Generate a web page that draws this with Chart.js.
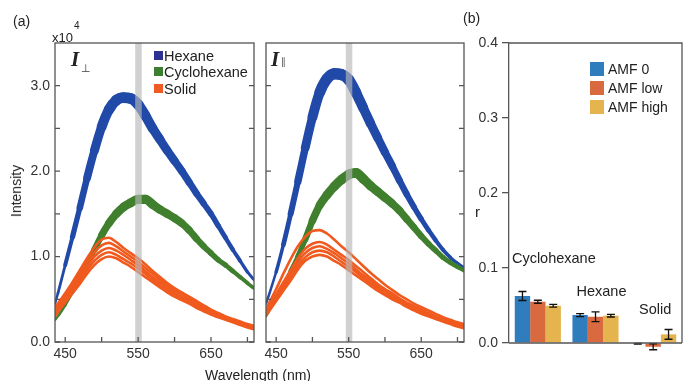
<!DOCTYPE html>
<html><head><meta charset="utf-8">
<script src="https://cdn.jsdelivr.net/npm/chart.js@4.4.0/dist/chart.umd.min.js"></script>
<style>
html,body{margin:0;padding:0;background:#fff;}
#wrap{position:relative;width:686px;height:381px;overflow:hidden;font-family:"Liberation Sans",Arial,sans-serif;color:#222;}
canvas{position:absolute;left:0;top:0;}
.t{position:absolute;white-space:nowrap;line-height:1;}
.box{position:absolute;}
</style></head><body>
<div id="wrap">
<canvas id="c1" width="686" height="381"></canvas>
<canvas id="c2" width="686" height="381"></canvas>
<canvas id="c3" width="686" height="381"></canvas>

<div class="t" style="left:13px;top:14px;font-size:14px;">(a)</div>
<div class="t" style="left:52px;top:31px;font-size:13px;">x10</div>
<div class="t" style="left:74px;top:21px;font-size:10px;">4</div>
<div class="t" style="left:463px;top:11px;font-size:14px;">(b)</div>
<div class="t" style="left:16px;top:191px;font-size:14px;transform:translate(-50%,-50%) rotate(-90deg);">Intensity</div>
<div class="t" style="left:258px;top:375px;font-size:14px;transform:translate(-50%,-50%);">Wavelength (nm)</div>
<div class="t" style="left:475px;top:204px;font-size:15px;">r</div>

<div class="t" style="left:71px;top:49px;font-size:21px;font-family:'Liberation Serif',serif;font-weight:bold;font-style:italic;">I</div>
<div class="t" style="left:81px;top:63px;font-size:11px;font-family:'DejaVu Sans',sans-serif;color:#444;">⊥</div>
<div class="t" style="left:271px;top:49px;font-size:21px;font-family:'Liberation Serif',serif;font-weight:bold;font-style:italic;">I</div>
<div class="t" style="left:281px;top:57px;font-size:10px;font-family:'DejaVu Sans',sans-serif;color:#555;">∥</div>

<div class="box" style="left:154px;top:51px;width:9px;height:9px;background:#2e3192;"></div>
<div class="t" style="left:164px;top:49px;font-size:14.5px;">Hexane</div>
<div class="box" style="left:154px;top:67px;width:9px;height:9px;background:#3c7f30;"></div>
<div class="t" style="left:164px;top:65px;font-size:14.5px;">Cyclohexane</div>
<div class="box" style="left:154px;top:84px;width:9px;height:9px;background:#f05a24;"></div>
<div class="t" style="left:164px;top:82px;font-size:14.5px;">Solid</div>

<div class="box" style="left:590px;top:62px;width:14px;height:14px;background:#2f7dbd;"></div>
<div class="t" style="left:608px;top:62px;font-size:14px;">AMF 0</div>
<div class="box" style="left:590px;top:81px;width:14px;height:14px;background:#d9693f;"></div>
<div class="t" style="left:608px;top:81px;font-size:14px;">AMF low</div>
<div class="box" style="left:590px;top:100px;width:14px;height:14px;background:#e6b44f;"></div>
<div class="t" style="left:608px;top:100px;font-size:14px;">AMF high</div>
</div>
<script>
// ---------- data ----------
const wl = [436,440,450,460,470,480,490,500,510,520,530,540,550,560,570,580,590,600,610,620,630,640,650,660,670,680,690,700,709];
// I_perp (x10^4)
const hexPerp = [0.45,0.57,0.9,1.23,1.57,1.92,2.24,2.52,2.72,2.83,2.86,2.85,2.78,2.65,2.5,2.37,2.24,2.12,2.0,1.87,1.74,1.62,1.5,1.36,1.22,1.08,0.95,0.82,0.73];
const cycPerp = [0.26,0.3,0.43,0.58,0.74,0.91,1.08,1.25,1.39,1.5,1.58,1.63,1.67,1.67,1.61,1.55,1.5,1.45,1.39,1.31,1.21,1.12,1.04,0.96,0.9,0.83,0.76,0.69,0.63];
const solPerp1 = [0.4,0.45,0.57,0.7,0.84,0.98,1.11,1.2,1.22,1.17,1.1,1.04,0.98,0.91,0.83,0.76,0.69,0.63,0.58,0.53,0.48,0.43,0.38,0.34,0.3,0.27,0.24,0.21,0.19];
const solPerp2 = [0.38,0.43,0.54,0.67,0.8,0.93,1.05,1.13,1.16,1.12,1.06,1.0,0.94,0.87,0.8,0.73,0.67,0.61,0.56,0.51,0.46,0.41,0.37,0.33,0.29,0.26,0.23,0.2,0.18];
const solPerp3 = [0.36,0.41,0.52,0.64,0.76,0.88,1.0,1.07,1.1,1.07,1.02,0.96,0.9,0.83,0.76,0.7,0.64,0.58,0.53,0.49,0.44,0.4,0.36,0.32,0.28,0.25,0.22,0.19,0.17];
const solPerp4 = [0.33,0.38,0.49,0.61,0.72,0.84,0.95,1.02,1.05,1.02,0.97,0.92,0.86,0.8,0.73,0.67,0.61,0.56,0.51,0.47,0.42,0.38,0.34,0.3,0.27,0.24,0.21,0.18,0.16];
const solPerp5 = [0.3,0.35,0.46,0.57,0.68,0.8,0.9,0.97,1.0,0.98,0.93,0.88,0.82,0.76,0.7,0.64,0.58,0.53,0.49,0.45,0.4,0.36,0.32,0.29,0.26,0.23,0.2,0.17,0.15];
// I_par (x10^4)
const hexPar = [0.45,0.55,0.82,1.14,1.5,1.88,2.27,2.63,2.92,3.08,3.14,3.13,3.07,2.92,2.74,2.56,2.39,2.22,2.06,1.89,1.73,1.58,1.44,1.31,1.19,1.08,0.99,0.92,0.87];
const cycPar = [0.3,0.36,0.5,0.66,0.83,1.0,1.2,1.42,1.6,1.72,1.82,1.9,1.96,1.98,1.91,1.83,1.76,1.69,1.62,1.54,1.44,1.34,1.24,1.15,1.07,0.99,0.93,0.88,0.84];
const solPar1 = [0.38,0.45,0.62,0.8,0.97,1.12,1.23,1.3,1.31,1.27,1.2,1.12,1.05,0.97,0.89,0.81,0.74,0.67,0.61,0.55,0.5,0.45,0.41,0.37,0.33,0.29,0.26,0.23,0.21];
const solPar2 = [0.36,0.42,0.56,0.7,0.84,0.98,1.09,1.15,1.17,1.14,1.08,1.02,0.96,0.89,0.82,0.75,0.68,0.62,0.57,0.51,0.46,0.42,0.38,0.34,0.3,0.27,0.24,0.21,0.19];
const solPar3 = [0.35,0.4,0.53,0.67,0.8,0.93,1.04,1.1,1.12,1.09,1.04,0.98,0.92,0.85,0.78,0.72,0.65,0.6,0.54,0.49,0.45,0.4,0.36,0.33,0.29,0.26,0.23,0.2,0.18];
const solPar4 = [0.33,0.38,0.51,0.64,0.76,0.89,0.99,1.05,1.07,1.05,1.0,0.94,0.88,0.82,0.75,0.69,0.63,0.57,0.52,0.47,0.43,0.39,0.35,0.31,0.28,0.25,0.22,0.19,0.17];
const solPar5 = [0.31,0.36,0.48,0.6,0.72,0.85,0.95,1.0,1.02,1.0,0.95,0.9,0.84,0.78,0.72,0.66,0.6,0.55,0.5,0.46,0.41,0.37,0.33,0.3,0.27,0.24,0.21,0.18,0.16];
// axes
const xTickVals = [450,500,550,600,650,700];
const xLabelVals = [450,550,650];
const yLabelVals = [0,1,2,3];
const yTickVals = [0,0.5,1,1.5,2,2.5,3];
const bandRange = [546,555];
// bar chart (b)
const categories = ['Cyclohexane','Hexane','Solid'];
const seriesNames = ['AMF 0','AMF low','AMF high'];
const amf0    = [0.0627,0.0373,-0.001];
const amfLow  = [0.055,0.035,-0.005];
const amfHigh = [0.0497,0.0365,0.0115];
const err0    = [0.006,0.002,0.0005];
const errLow  = [0.002,0.0065,0.004];
const errHigh = [0.0018,0.0018,0.0065];

// ---------- styles ----------
const FONT = "'Liberation Sans', Arial, sans-serif";
const AX = '#555';
const BLUE = '#2149a8', GREEN = '#3f7f2e', ORANGE = '#f05a1e';

function lineDs(arr, color, factor, minW) {
  return {
    data: wl.map((w,i)=>({x:w, y:arr[i]})),
    borderColor: color, pointRadius: 0, borderWidth: minW,
    borderCapStyle: 'round', borderJoinStyle: 'round',
    cubicInterpolationMode: 'monotone',
    segment: { borderWidth: c => Math.max(minW, factor*(c.p0.parsed.y + c.p1.parsed.y)/2) }
  };
}

const spectrumPlugin = {
  id: 'spectrum',
  afterDatasetsDraw(chart) {
    const {ctx, chartArea:a, scales:{x}} = chart;
    const x0 = x.getPixelForValue(bandRange[0]), x1 = x.getPixelForValue(bandRange[1]);
    ctx.save();
    ctx.fillStyle = 'rgba(185,185,185,0.65)';
    ctx.fillRect(x0, a.top, x1 - x0, a.bottom - a.top);
    ctx.restore();
  },
  afterDraw(chart) {
    const {ctx, chartArea:a, scales:{x,y}} = chart;
    ctx.save();
    ctx.strokeStyle = AX; ctx.lineWidth = 1.3;
    ctx.strokeRect(a.left, a.top, a.right - a.left, a.bottom - a.top);
    ctx.beginPath();
    yTickVals.forEach(v => {
      const py = y.getPixelForValue(v);
      ctx.moveTo(a.left, py); ctx.lineTo(a.left + 5, py);
      ctx.moveTo(a.right - 5, py); ctx.lineTo(a.right, py);
    });
    xTickVals.forEach(v => {
      const px = x.getPixelForValue(v);
      ctx.moveTo(px, a.bottom); ctx.lineTo(px, a.bottom - 5);
    });
    ctx.stroke();
    ctx.restore();
  }
};

function spectrumOptions(padding, showY) {
  return {
    animation: false, responsive: false, events: [],
    layout: { padding },
    plugins: { legend: {display:false}, tooltip: {enabled:false} },
    scales: {
      x: {
        type: 'linear', min: 436, max: 709,
        afterBuildTicks: s => { s.ticks = xTickVals.map(v => ({value: v})); },
        afterFit: s => { s.height = 39; },
        ticks: { autoSkip:false, maxRotation:0, padding:4, color:'#333',
                 font:{family:FONT, size:14},
                 callback: v => xLabelVals.includes(v) ? String(v) : '' },
        grid: { display:false, drawTicks:false }, border: { display:false }
      },
      y: {
        display: showY, min: 0, max: 3.5,
        afterBuildTicks: s => { s.ticks = yLabelVals.map(v => ({value: v})); },
        afterFit: s => { s.width = showY ? 55 : 0; },
        ticks: { padding:5, color:'#333', font:{family:FONT, size:14},
                 callback: v => Number(v).toFixed(1) },
        grid: { display:false, drawTicks:false }, border: { display:false }
      }
    }
  };
}

new Chart(document.getElementById('c1'), {
  type: 'line',
  data: { datasets: [
    lineDs(solPerp1, ORANGE, 0, 2.6), lineDs(solPerp2, ORANGE, 0, 2.6), lineDs(solPerp3, ORANGE, 0, 2.6),
    lineDs(solPerp4, ORANGE, 0, 2.6), lineDs(solPerp5, ORANGE, 0, 2.6),
    lineDs(cycPerp, GREEN, 5.5, 2.5),
    lineDs(hexPerp, BLUE, 3.8, 2.5)
  ]},
  options: spectrumOptions({left:0, top:43, right:686-254, bottom:0}, true),
  plugins: [spectrumPlugin]
});

new Chart(document.getElementById('c2'), {
  type: 'line',
  data: { datasets: [
    lineDs(solPar1, ORANGE, 0, 2.6), lineDs(solPar2, ORANGE, 0, 2.6), lineDs(solPar3, ORANGE, 0, 2.6),
    lineDs(solPar4, ORANGE, 0, 2.6), lineDs(solPar5, ORANGE, 0, 2.6),
    lineDs(cycPar, GREEN, 5.0, 2.5),
    lineDs(hexPar, BLUE, 3.6, 2.5)
  ]},
  options: spectrumOptions({left:266, top:43, right:686-464, bottom:0}, false),
  plugins: [spectrumPlugin]
});

// ---------- bar chart ----------
const barErrs = [err0, errLow, errHigh];
const catLabelY = [0.112, 0.068, 0.044];
const catLabelDx = [16, 6, 2];
const barPlugin = {
  id: 'barextra',
  afterDatasetsDraw(chart) {
    const {ctx, scales:{y}} = chart;
    ctx.save();
    ctx.strokeStyle = '#111'; ctx.lineWidth = 1.3;
    chart.data.datasets.forEach((ds, i) => {
      const meta = chart.getDatasetMeta(i);
      meta.data.forEach((bar, j) => {
        const v = ds.data[j], e = barErrs[i][j];
        const yt = y.getPixelForValue(v + e), yb = y.getPixelForValue(v - e);
        ctx.beginPath();
        ctx.moveTo(bar.x, yt); ctx.lineTo(bar.x, yb);
        ctx.moveTo(bar.x - 4, yt); ctx.lineTo(bar.x + 4, yt);
        ctx.moveTo(bar.x - 4, yb); ctx.lineTo(bar.x + 4, yb);
        ctx.stroke();
      });
    });
    ctx.restore();
  },
  afterDraw(chart) {
    const {ctx, chartArea:a, scales:{x,y}} = chart;
    ctx.save();
    ctx.strokeStyle = AX; ctx.lineWidth = 1.3;
    const y0 = y.getPixelForValue(0);
    ctx.beginPath();
    ctx.moveTo(a.left, a.top); ctx.lineTo(a.right, a.top); ctx.lineTo(a.right, y0);
    ctx.moveTo(a.left, y0); ctx.lineTo(a.right, y0);
    ctx.stroke();
    ctx.fillStyle = '#222';
    ctx.font = "14.5px " + FONT;
    ctx.textAlign = 'center'; ctx.textBaseline = 'middle';
    categories.forEach((c, i) => {
      ctx.fillText(c, x.getPixelForValue(i) + catLabelDx[i], y.getPixelForValue(catLabelY[i]));
    });
    ctx.restore();
  }
};

new Chart(document.getElementById('c3'), {
  type: 'bar',
  data: { labels: categories, datasets: [
    {label: seriesNames[0], data: amf0, backgroundColor: '#2f7dbd', clip: false},
    {label: seriesNames[1], data: amfLow, backgroundColor: '#d9693f', clip: false},
    {label: seriesNames[2], data: amfHigh, backgroundColor: '#e6b44f', clip: false}
  ]},
  options: {
    animation: false, responsive: false, events: [],
    layout: { padding: {left:470, right:4, top:43, bottom:38} },
    plugins: { legend: {display:false}, tooltip: {enabled:false} },
    datasets: { bar: { categoryPercentage: 0.8, barPercentage: 1.0 } },
    scales: {
      x: { display: false },
      y: {
        min: 0, max: 0.4,
        afterFit: s => { s.width = 39; },
        ticks: { stepSize: 0.1, padding: 4, color:'#333', font:{family:FONT, size:14},
                 callback: v => Number(v).toFixed(1) },
        grid: { drawOnChartArea: false, tickLength: 7, color: AX, lineWidth: 1.3 },
        border: { color: AX, width: 1.3 }
      }
    }
  },
  plugins: [barPlugin]
});
</script>
</body></html>
